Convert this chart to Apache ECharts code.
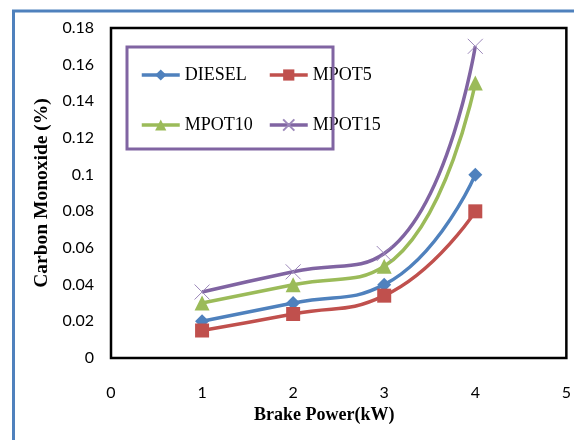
<!DOCTYPE html>
<html>
<head>
<meta charset="utf-8">
<script src="https://cdn.jsdelivr.net/npm/echarts@6/dist/echarts.min.js"></script>
<style>
  html, body { margin: 0; padding: 0; background: #fff; }
  #chart { width: 574px; height: 440px; }
</style>
</head>
<body>
<div id="chart"></div>
<script>
// datos
var potencia = [1, 2, 3, 4];
var diesel = [0.02, 0.03, 0.04, 0.1];
var mpot5 = [0.015, 0.024, 0.034, 0.08];
var mpot10 = [0.03, 0.04, 0.05, 0.15];
var mpot15 = [0.036, 0.047, 0.057, 0.17];

function pares(valores) {
  return potencia.map(function (x, i) {
    return [x, valores[i]];
  });
}

// una leyenda por elemento para fijar las columnas
function leyenda(nombre, x, y) {
  return {
    data: [nombre],
    left: x,
    top: y,
    itemWidth: 38,
    itemHeight: 14,
    symbolSize: 13,
    lineStyle: { width: 3.5 },
    textStyle: { fontFamily: 'Liberation Serif', fontSize: 18, color: '#000' }
  };
}

var chart = echarts.init(document.getElementById('chart'));

var cruz = 'path://M0,0L10,10M10,0L0,10';

var option = {
  animation: false,
  grid: {
    left: 111,
    top: 28,
    right: 6,
    bottom: 82,
    show: true,
    borderColor: '#000',
    borderWidth: 2.5,
    backgroundColor: '#fff'
  },
  legend: [
    leyenda('DIESEL', 135, 61),
    leyenda('MPOT5', 263, 61),
    leyenda('MPOT10', 135, 111),
    leyenda('MPOT15', 263, 111)
  ],
  xAxis: {
    type: 'value',
    min: 0,
    max: 5,
    interval: 1,
    name: 'Brake Power(kW)',
    nameLocation: 'middle',
    nameGap: 46,
    nameTextStyle: {
      fontFamily: 'Liberation Serif', fontWeight: 'bold', fontSize: 18, color: '#000',
      padding: [0, 29, 0, 0]
    },
    axisLine: { show: false },
    axisTick: { show: false },
    splitLine: { show: false },
    axisLabel: { margin: 27, fontFamily: 'Lato', fontSize: 16, color: '#000' }
  },
  yAxis: {
    type: 'value',
    min: 0,
    max: 0.18,
    interval: 0.02,
    name: 'Carbon Monoxide (%)',
    nameLocation: 'middle',
    nameGap: 58,
    nameTextStyle: { fontFamily: 'Liberation Serif', fontWeight: 'bold', fontSize: 19.5, color: '#000' },
    axisLine: { show: false },
    axisTick: { show: false },
    splitLine: { show: false },
    axisLabel: { margin: 17, fontFamily: 'Lato', fontSize: 16, color: '#000' }
  },
  series: [
    {
      name: 'DIESEL',
      type: 'line',
      smooth: 0.5,
      data: pares(diesel),
      symbol: 'diamond',
      symbolSize: 14,
      lineStyle: { width: 3.5, color: '#4F81BD' },
      itemStyle: { color: '#4F81BD' }
    },
    {
      name: 'MPOT5',
      type: 'line',
      smooth: 0.5,
      data: pares(mpot5),
      symbol: 'rect',
      symbolSize: 14,
      lineStyle: { width: 3.5, color: '#C0504D' },
      itemStyle: { color: '#C0504D' }
    },
    {
      name: 'MPOT10',
      type: 'line',
      smooth: 0.5,
      data: pares(mpot10),
      symbol: 'triangle',
      symbolSize: 15,
      lineStyle: { width: 3.5, color: '#9BBB59' },
      itemStyle: { color: '#9BBB59' }
    },
    {
      name: 'MPOT15',
      type: 'line',
      smooth: 0.5,
      data: pares(mpot15),
      symbol: cruz,
      symbolSize: 15,
      lineStyle: { width: 3.5, color: '#8064A2' },
      itemStyle: { color: 'none', borderColor: '#9C88BA', borderWidth: 1 }
    }
  ],
  graphic: [
    {
      type: 'rect',
      shape: { x: 13.5, y: 11, width: 620, height: 500 },
      style: { fill: 'none', stroke: '#4F81BD', lineWidth: 3 },
      z: 100
    },
    {
      type: 'rect',
      shape: { x: 127, y: 47, width: 206, height: 102 },
      style: { fill: 'none', stroke: '#8064A2', lineWidth: 3 },
      z: 100
    }
  ]
};

chart.setOption(option);
</script>
</body>
</html>
